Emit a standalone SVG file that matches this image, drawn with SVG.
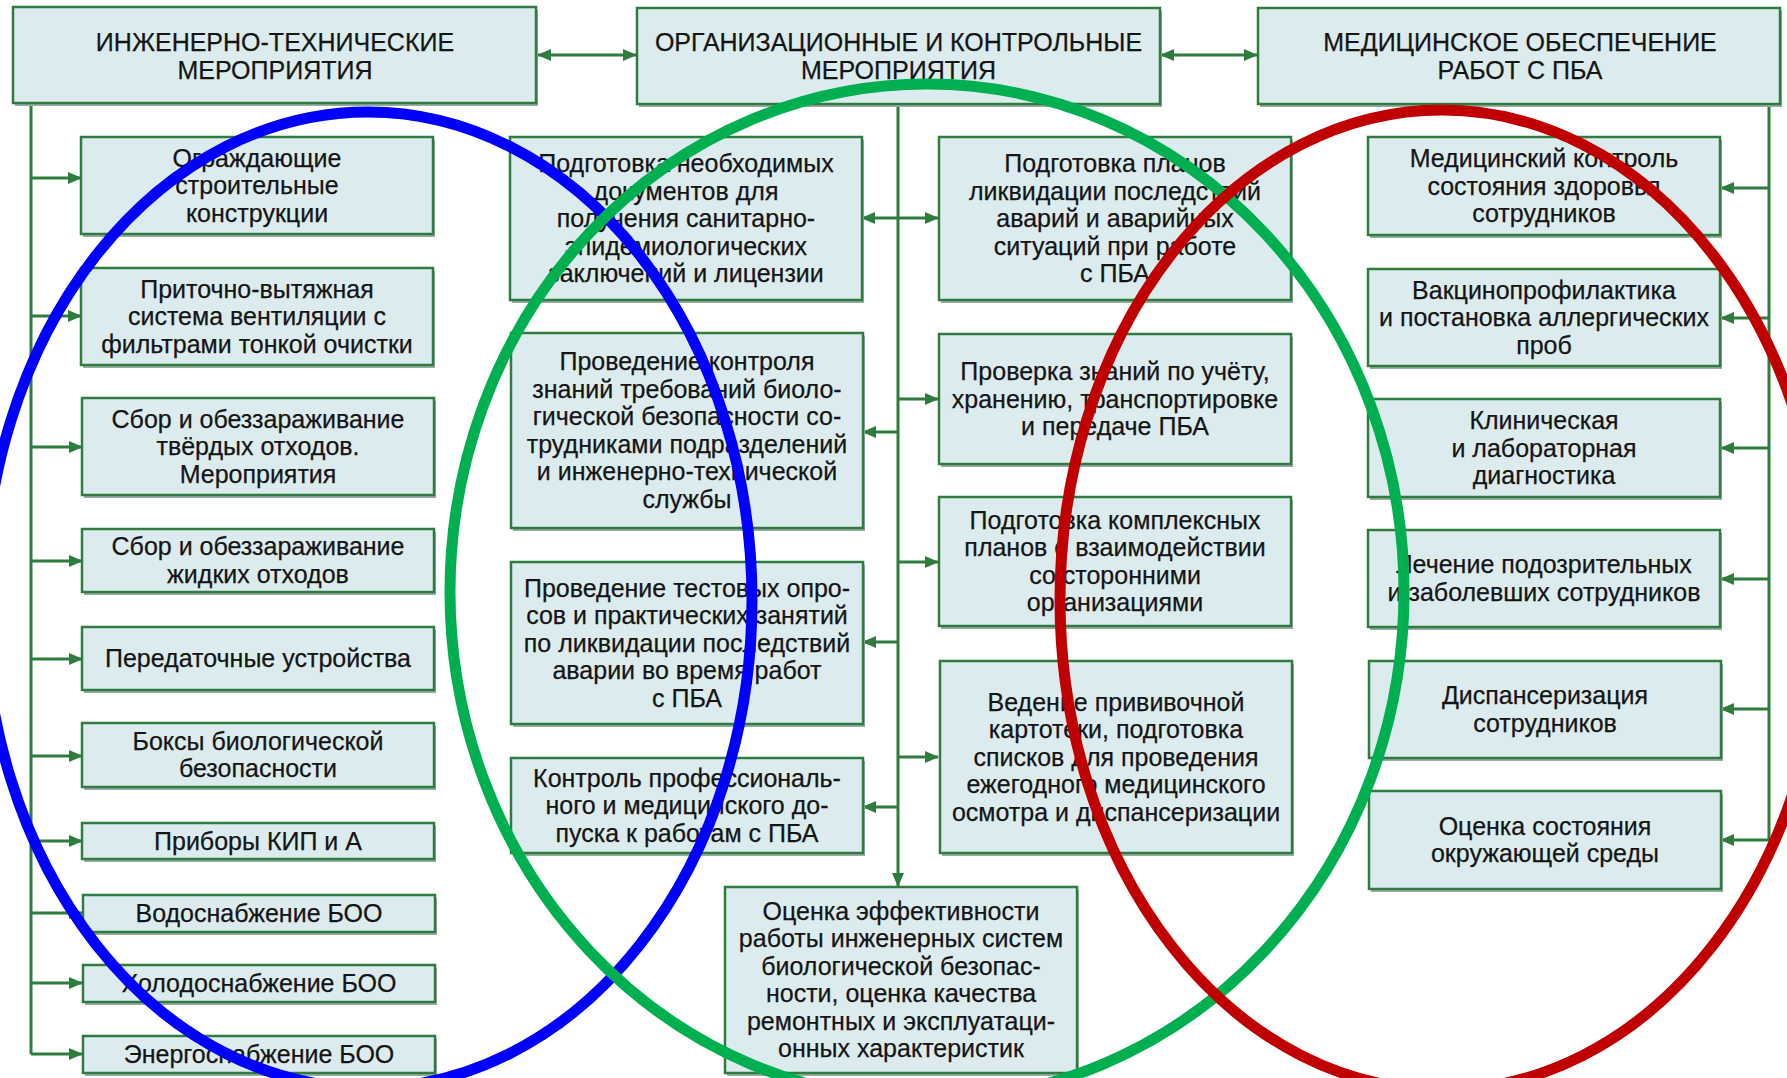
<svg xmlns="http://www.w3.org/2000/svg" width="1787" height="1078" viewBox="0 0 1787 1078">
<defs>
<style>
.bx{fill:#dcecee;stroke:#2f7d3e;stroke-width:2.5}
.sh{fill:#9aaba6}
text{font-family:"Liberation Sans",Arial,sans-serif;font-size:25px;fill:#151515;stroke:#151515;stroke-width:0.25;text-anchor:middle}
.c{stroke:#2f7d3e;stroke-width:3;fill:none}
.a{marker-end:url(#ah)}
.d{marker-start:url(#ah);marker-end:url(#ah)}
.el{fill:none;stroke-width:11}
</style>
<marker id="ah" viewBox="0 0 14 12" refX="13" refY="6" markerWidth="14" markerHeight="12" markerUnits="userSpaceOnUse" orient="auto-start-reverse">
<path d="M0,0 L14,6 L0,12 z" fill="#2f7d3e"/>
</marker>
</defs>
<rect width="1787" height="1078" fill="#ffffff"/>

<g id="connectors">
<path class="c" d="M31,103 V1054"/>
<path class="c a" d="M31,178 H81"/>
<path class="c a" d="M31,316 H81"/>
<path class="c a" d="M31,447 H82"/>
<path class="c a" d="M31,561 H82"/>
<path class="c a" d="M31,659 H82"/>
<path class="c a" d="M31,756 H82"/>
<path class="c a" d="M31,841 H82"/>
<path class="c a" d="M31,913 H82"/>
<path class="c a" d="M31,983 H82"/>
<path class="c a" d="M31,1054 H82"/>
<path class="c d" d="M538,55 H636"/>
<path class="c d" d="M1161,55 H1257"/>
<path class="c a" d="M898,104 V886"/>
<path class="c d" d="M862,218 H938"/>
<path class="c a" d="M898,399 H938"/>
<path class="c a" d="M898,432 H863"/>
<path class="c a" d="M898,562 H938"/>
<path class="c a" d="M898,642 H863"/>
<path class="c a" d="M898,757 H938"/>
<path class="c a" d="M898,807 H863"/>
<path class="c" d="M1769,104 V840"/>
<path class="c a" d="M1769,188 H1721"/>
<path class="c a" d="M1769,318 H1721"/>
<path class="c a" d="M1769,448 H1721"/>
<path class="c a" d="M1769,579 H1721"/>
<path class="c a" d="M1769,709 H1721"/>
<path class="c a" d="M1769,840 H1721"/>
</g>

<g id="h1"><rect class="sh" x="15" y="10" width="523" height="96"/><rect class="bx" x="13" y="7" width="523" height="96"/>
<text x="275" y="50.5">ИНЖЕНЕРНО-ТЕХНИЧЕСКИЕ</text><text x="275" y="78.5">МЕРОПРИЯТИЯ</text></g>
<g id="h2"><rect class="sh" x="639" y="11" width="523" height="96"/><rect class="bx" x="637" y="8" width="523" height="96"/>
<text x="898.5" y="51">ОРГАНИЗАЦИОННЫЕ И КОНТРОЛЬНЫЕ</text><text x="898.5" y="79">МЕРОПРИЯТИЯ</text></g>
<g id="h3"><rect class="sh" x="1260" y="11" width="522" height="96"/><rect class="bx" x="1258" y="8" width="522" height="96"/>
<text x="1520" y="51">МЕДИЦИНСКОЕ ОБЕСПЕЧЕНИЕ</text><text x="1520" y="79">РАБОТ С ПБА</text></g>

<g id="l1"><rect class="sh" x="83" y="140" width="352" height="97"/><rect class="bx" x="81" y="137" width="352" height="97"/>
<text x="257" y="166.5">Ограждающие</text><text x="257" y="194">строительные</text><text x="257" y="221.5">конструкции</text></g>
<g id="l2"><rect class="sh" x="83" y="271" width="352" height="97"/><rect class="bx" x="81" y="268" width="352" height="97"/>
<text x="257" y="297.5">Приточно-вытяжная</text><text x="257" y="325">система вентиляции с</text><text x="257" y="352.5">фильтрами тонкой очистки</text></g>
<g id="l3"><rect class="sh" x="84" y="401" width="352" height="97"/><rect class="bx" x="82" y="398" width="352" height="97"/>
<text x="258" y="427.5">Сбор и обеззараживание</text><text x="258" y="455">твёрдых отходов.</text><text x="258" y="482.5">Мероприятия</text></g>
<g id="l4"><rect class="sh" x="84" y="532" width="352" height="63"/><rect class="bx" x="82" y="529" width="352" height="63"/>
<text x="258" y="555.25">Сбор и обеззараживание</text><text x="258" y="582.75">жидких отходов</text></g>
<g id="l5"><rect class="sh" x="84" y="630" width="352" height="63"/><rect class="bx" x="82" y="627" width="352" height="63"/>
<text x="258" y="667">Передаточные устройства</text></g>
<g id="l6"><rect class="sh" x="84" y="726" width="352" height="64"/><rect class="bx" x="82" y="723" width="352" height="64"/>
<text x="258" y="749.75">Боксы биологической</text><text x="258" y="777.25">безопасности</text></g>
<g id="l7"><rect class="sh" x="84" y="826" width="352" height="36"/><rect class="bx" x="82" y="823" width="352" height="36"/>
<text x="258" y="849.5">Приборы КИП и А</text></g>
<g id="l8"><rect class="sh" x="85" y="898" width="352" height="37"/><rect class="bx" x="83" y="895" width="352" height="37"/>
<text x="259" y="922">Водоснабжение БОО</text></g>
<g id="l9"><rect class="sh" x="85" y="968" width="352" height="37"/><rect class="bx" x="83" y="965" width="352" height="37"/>
<text x="259" y="992">Холодоснабжение БОО</text></g>
<g id="l10"><rect class="sh" x="85" y="1039" width="352" height="37"/><rect class="bx" x="83" y="1036" width="352" height="37"/>
<text x="259" y="1063">Энергоснабжение БОО</text></g>

<g id="a1"><rect class="sh" x="512" y="140" width="352" height="163"/><rect class="bx" x="510" y="137" width="352" height="163"/>
<text x="686" y="172">Подготовка необходимых</text><text x="686" y="199.5">документов для</text><text x="686" y="227">получения санитарно-</text><text x="686" y="254.5">эпидемиологических</text><text x="686" y="282">заключений и лицензии</text></g>
<g id="a2"><rect class="sh" x="513" y="336" width="352" height="195"/><rect class="bx" x="511" y="333" width="352" height="195"/>
<text x="687" y="370.25">Проведение контроля</text><text x="687" y="397.75">знаний требований биоло-</text><text x="687" y="425.25">гической безопасности со-</text><text x="687" y="452.75">трудниками подразделений</text><text x="687" y="480.25">и инженерно-технической</text><text x="687" y="507.75">службы</text></g>
<g id="a3"><rect class="sh" x="513" y="565" width="352" height="162"/><rect class="bx" x="511" y="562" width="352" height="162"/>
<text x="687" y="596.5">Проведение тестовых опро-</text><text x="687" y="624">сов и практических занятий</text><text x="687" y="651.5">по ликвидации последствий</text><text x="687" y="679">аварии во время работ</text><text x="687" y="706.5">с ПБА</text></g>
<g id="a4"><rect class="sh" x="513" y="761" width="352" height="95"/><rect class="bx" x="511" y="758" width="352" height="95"/>
<text x="687" y="786.5">Контроль профессиональ-</text><text x="687" y="814">ного и медицинского до-</text><text x="687" y="841.5">пуска к работам с ПБА</text></g>

<g id="b1"><rect class="sh" x="941" y="140" width="352" height="163"/><rect class="bx" x="939" y="137" width="352" height="163"/>
<text x="1115" y="172">Подготовка планов</text><text x="1115" y="199.5">ликвидации последствий</text><text x="1115" y="227">аварий и аварийных</text><text x="1115" y="254.5">ситуаций при работе</text><text x="1115" y="282">с ПБА</text></g>
<g id="b2"><rect class="sh" x="941" y="337" width="352" height="130"/><rect class="bx" x="939" y="334" width="352" height="130"/>
<text x="1115" y="380">Проверка знаний по учёту,</text><text x="1115" y="407.5">хранению, транспортировке</text><text x="1115" y="435">и передаче ПБА</text></g>
<g id="b3"><rect class="sh" x="941" y="500" width="352" height="129"/><rect class="bx" x="939" y="497" width="352" height="129"/>
<text x="1115" y="528.75">Подготовка комплексных</text><text x="1115" y="556.25">планов о взаимодействии</text><text x="1115" y="583.75">со сторонними</text><text x="1115" y="611.25">организациями</text></g>
<g id="b4"><rect class="sh" x="942" y="664" width="352" height="192"/><rect class="bx" x="940" y="661" width="352" height="192"/>
<text x="1116" y="710.5">Ведение прививочной</text><text x="1116" y="738">картотеки, подготовка</text><text x="1116" y="765.5">списков для проведения</text><text x="1116" y="793">ежегодного медицинского</text><text x="1116" y="820.5">осмотра и диспансеризации</text></g>

<g id="c1"><rect class="sh" x="727" y="890" width="352" height="186"/><rect class="bx" x="725" y="887" width="352" height="186"/>
<text x="901" y="919.75">Оценка эффективности</text><text x="901" y="947.25">работы инженерных систем</text><text x="901" y="974.75">биологической безопас-</text><text x="901" y="1002.25">ности, оценка качества</text><text x="901" y="1029.75">ремонтных и эксплуатаци-</text><text x="901" y="1057.25">онных характеристик</text></g>

<g id="r1"><rect class="sh" x="1370" y="140" width="352" height="98"/><rect class="bx" x="1368" y="137" width="352" height="98"/>
<text x="1544" y="167">Медицинский контроль</text><text x="1544" y="194.5">состояния здоровья</text><text x="1544" y="222">сотрудников</text></g>
<g id="r2"><rect class="sh" x="1370" y="272" width="352" height="97"/><rect class="bx" x="1368" y="269" width="352" height="97"/>
<text x="1544" y="298.5">Вакцинопрофилактика</text><text x="1544" y="326">и постановка аллергических</text><text x="1544" y="353.5">проб</text></g>
<g id="r3"><rect class="sh" x="1370" y="402" width="352" height="98"/><rect class="bx" x="1368" y="399" width="352" height="98"/>
<text x="1544" y="429">Клиническая</text><text x="1544" y="456.5">и лабораторная</text><text x="1544" y="484">диагностика</text></g>
<g id="r4"><rect class="sh" x="1370" y="533" width="352" height="97"/><rect class="bx" x="1368" y="530" width="352" height="97"/>
<text x="1544" y="573.25">Лечение подозрительных</text><text x="1544" y="600.75">и заболевших сотрудников</text></g>
<g id="r5"><rect class="sh" x="1371" y="664" width="352" height="97"/><rect class="bx" x="1369" y="661" width="352" height="97"/>
<text x="1545" y="704.25">Диспансеризация</text><text x="1545" y="731.75">сотрудников</text></g>
<g id="r6"><rect class="sh" x="1371" y="794" width="352" height="98"/><rect class="bx" x="1369" y="791" width="352" height="98"/>
<text x="1545" y="834.75">Оценка состояния</text><text x="1545" y="862.25">окружающей среды</text></g>

<g id="ellipses">
<ellipse class="el" cx="368" cy="600" rx="384" ry="488" stroke="#0000ff"/>
<ellipse class="el" cx="927" cy="592" rx="477" ry="508" stroke="#00b050"/>
<ellipse class="el" cx="1442" cy="600" rx="382" ry="490" stroke="#c00000"/>
</g>
</svg>
